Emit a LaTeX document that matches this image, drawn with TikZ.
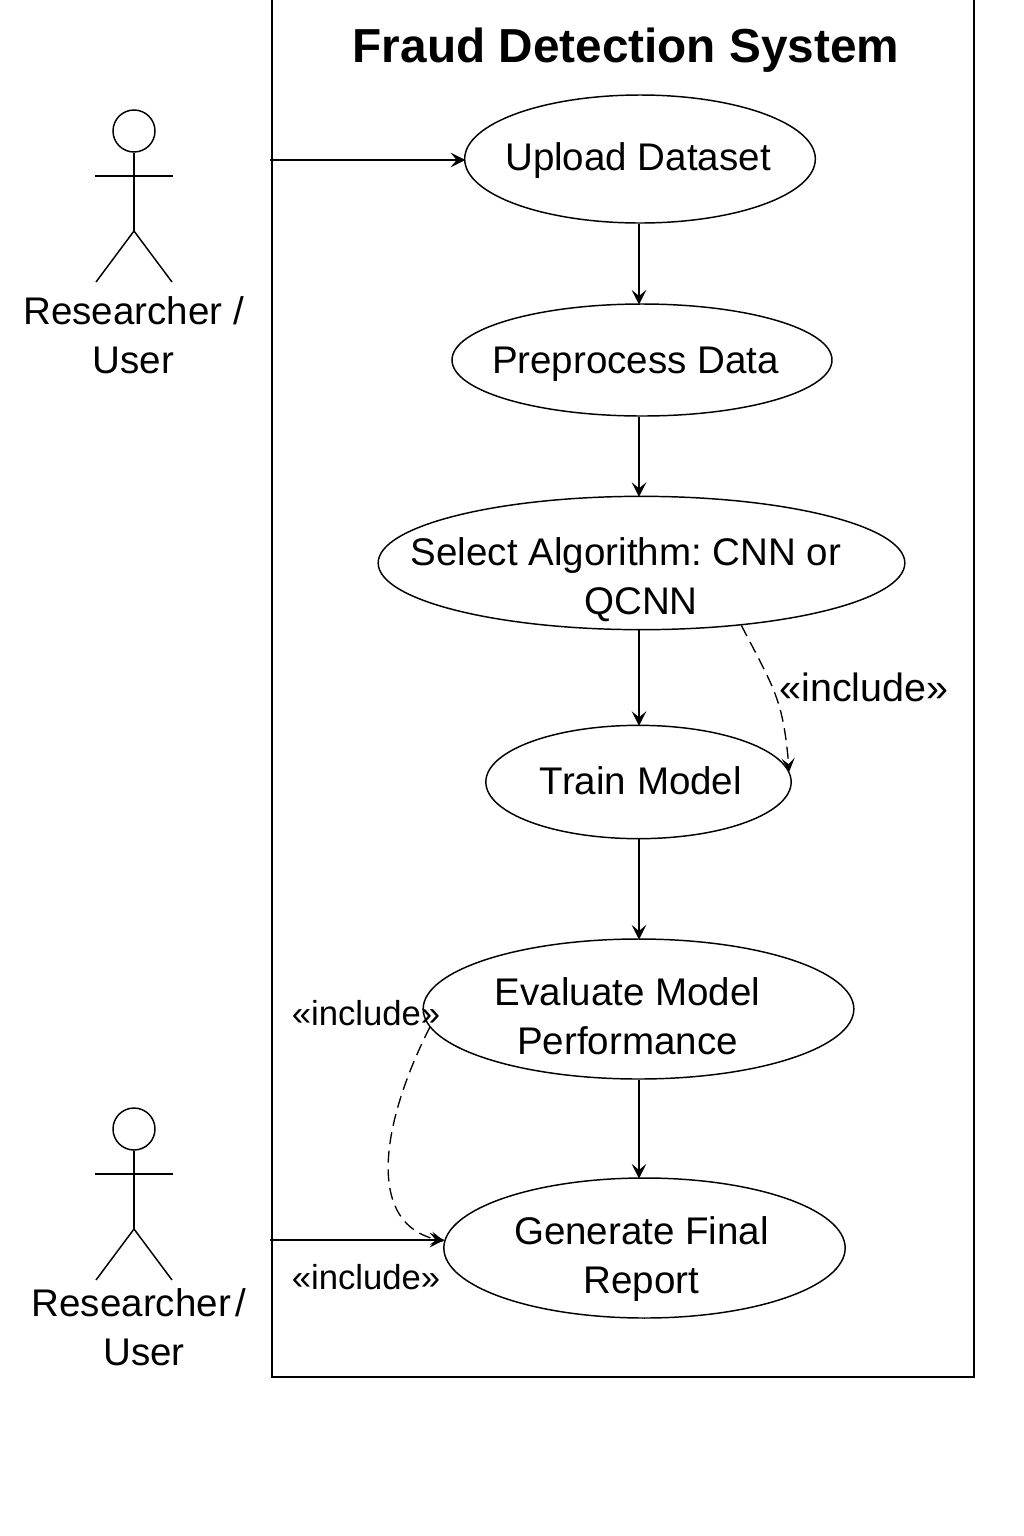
\documentclass[tikz,border=0pt]{standalone}
\usepackage{fontspec}
\setmainfont{Liberation Sans}
\usetikzlibrary{arrows.meta,shapes.geometric}
\tikzset{
  usecase/.style={draw, ellipse, line width=1.1pt, inner sep=0pt},
  uctext/.style={inner sep=0pt, align=center, font=\fontsize{28.9}{36.5}\selectfont},
  flow/.style={-{Stealth[length=11pt,width=11pt,inset=4.5pt]}, line width=1.1pt, shorten >=-1pt},
  incl/.style={-{Stealth[length=10pt,width=10pt,inset=4.5pt]}, line width=1pt, dash pattern=on 9pt off 5pt},
  inclabel/.style={inner sep=0pt, font=\fontsize{26}{30}\selectfont},
  actorlabel/.style={inner sep=0pt, align=center, font=\fontsize{28.9}{37}\selectfont},
  limb/.style={line width=1.1pt}
}
\newcommand{\DrawActor}[3]{% name,x,y of head centre
  \node[draw, circle, line width=1.1pt, minimum size=31.5pt, inner sep=0pt] (#1head) at (#2,#3) {};
  \coordinate (#1hip) at (#2,#3+100);
  \draw[limb] (#1head.south) -- (#1hip);
  \draw[limb] (#2-39,#3+45) -- (#2+39,#3+45);
  \draw[limb] (#2-38,#3+151) -- (#1hip) -- (#2+38,#3+151);
}
\frenchspacing
\begin{document}
\begin{tikzpicture}[x=0.75pt,y=-0.75pt]
  \useasboundingbox (0,0) rectangle (1024,1536);
  % system boundary
  \draw[line width=1.3pt] (272,-5) -- (272,1377) -- (974,1377) -- (974,-5);
  \node[font=\bfseries\fontsize{35.8}{42}\selectfont, inner sep=0pt] (title) at (626,50) {Fraud Detection System};
  % use cases
  \node[usecase, minimum width=263pt, minimum height=96pt] (upload) at (640,159) {};
  \node[uctext] (uploadtext) at (638,161) {Upload Dataset};
  \node[usecase, minimum width=285pt, minimum height=84pt] (prep) at (642,360) {};
  \node[uctext] (preptext) at (635.5,364) {Preprocess Data};
  \node[usecase, minimum width=395pt, minimum height=100pt] (select) at (641.5,563) {};
  \node[uctext] (selecttext) at (626,580) {Select Algorithm: CNN or\\\hspace*{22.5pt}QCNN};
  \node[usecase, minimum width=229pt, minimum height=85pt] (train) at (638.5,782) {};
  \node[uctext] (traintext) at (641,781) {Train Model};
  \node[usecase, minimum width=323pt, minimum height=105pt] (eval) at (638.5,1009) {};
  \node[uctext] (evaltext) at (627.5,1016) {Evaluate Model\\Performance};
  \node[usecase, minimum width=301pt, minimum height=105pt] (report) at (644.5,1248) {};
  \node[uctext] (reporttext) at (641.5,1259) {Generate Final\\Report};
  % flow
  \coordinate (spine) at (639,0);
  \draw[flow] (upload.south -| spine) -- (prep.north -| spine);
  \draw[flow] (prep.south -| spine) -- (select.north -| spine);
  \draw[flow] (select.south -| spine) -- (train.north -| spine);
  \draw[flow] (train.south -| spine) -- (eval.north -| spine);
  \draw[flow] (eval.south -| spine) -- (report.north -| spine);
  \coordinate (actorA) at (270,160);
  \coordinate (actorB) at (270,1240);
  \draw[flow] (actorA) -- (actorA -| upload.west);
  \draw[flow] (actorB) -- (actorB -| report.west);
  % includes
  \draw[incl] (select.-32) .. controls (775,690) and (783,700) .. (train.4);
  \draw[incl] (eval.185) .. controls (378,1130) and (368,1225) .. (report.178);
  \node[inclabel, font=\fontsize{29.6}{30}\selectfont] (incA) at (864,687) {«include»};
  \node[inclabel] (incB) at (366,1013) {«include»};
  \node[inclabel] (incC) at (366,1277) {«include»};
  % actors
  \DrawActor{top}{134}{131}
  \DrawActor{bot}{134}{1129}
  \node[actorlabel] (toplabel) at (133.5,335) {Researcher /\\User};
  \node[actorlabel] (botlabel) at (139,1327) {Researcher\hspace{0.12em}/\\\hspace*{7.5pt}User};
\end{tikzpicture}
\end{document}
